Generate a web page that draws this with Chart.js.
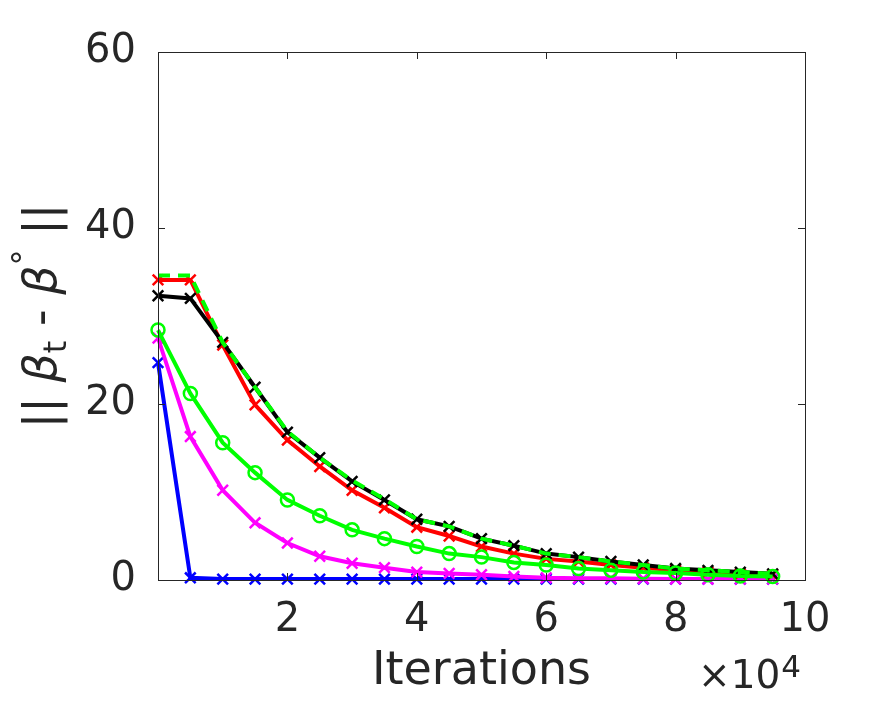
<!DOCTYPE html>
<html>
<head>
<meta charset="utf-8">
<script src="https://cdn.jsdelivr.net/npm/chart.js@4.4.1/dist/chart.umd.min.js"></script>
<style>
  html, body { margin: 0; padding: 0; background: #fff; }
  #wrap { width: 891px; height: 703px; }
</style>
</head>
<body>
<div id="wrap"><canvas id="errChart" width="891" height="703"></canvas></div>
<script>
// iterations (x 10^4)
const iterations = [0, 0.5, 1, 1.5, 2, 2.5, 3, 3.5, 4, 4.5, 5, 5.5, 6, 6.5, 7, 7.5, 8, 8.5, 9, 9.5];

const redVals     = [34.1, 34.1, 26.7, 19.9, 15.9, 12.9, 10.2, 8.2, 6.0, 5.0, 3.8, 3.0, 2.4, 2.1, 1.7, 1.4, 1.1, 0.9, 0.7, 0.6];
const blackVals   = [32.3, 32.0, 27.0, 21.9, 16.8, 13.9, 11.2, 9.1, 6.9, 6.1, 4.7, 3.9, 3.0, 2.6, 2.1, 1.7, 1.3, 1.1, 0.9, 0.7];
const greenDashed = [34.6, 34.6, 27.0, 21.9, 16.9, 13.9, 11.3, 9.2, 6.9, 6.1, 4.7, 3.9, 3.0, 2.6, 2.1, 1.7, 1.3, 1.1, 0.9, 0.7];
const greenCircle = [28.4, 21.2, 15.6, 12.2, 9.1, 7.3, 5.7, 4.7, 3.8, 3.0, 2.6, 2.0, 1.7, 1.3, 1.1, 0.9, 0.8, 0.6, 0.45, 0.4];
const magentaVals = [27.5, 16.3, 10.2, 6.5, 4.2, 2.7, 1.9, 1.4, 0.9, 0.75, 0.6, 0.4, 0.25, 0.2, 0.2, 0.15, 0.12, 0.1, 0.1, 0.1];
const blueVals    = [24.7, 0.25, 0.1, 0.1, 0.1, 0.1, 0.1, 0.1, 0.1, 0.1, 0.1, 0.1, 0.1, 0.1, 0.1, 0.1, 0.1, 0.1, 0.1, 0.1];

const xTicks = [2, 4, 6, 8, 10];
const yTicks = [0, 20, 40, 60];

const axisColor = '#262626';
const fontFamily = '"DejaVu Sans", sans-serif';

function toPoints(vals) {
    return vals.map((v, i) => ({ x: iterations[i], y: v }));
}

function makeSeries(vals, color, opts) {
    return Object.assign({
        data: toPoints(vals),
        showLine: true,
        borderColor: color,
        backgroundColor: color,
        borderWidth: 4,
        pointStyle: 'crossRot',
        pointRadius: 7.5,
        pointBorderWidth: 2.5,
        pointBorderColor: color,
        pointHoverRadius: 7.5,
        clip: false,
        tension: 0
    }, opts || {});
}

// box, inward ticks, y title, exponent label
const matlabAxes = {
    id: 'matlabAxes',
    afterDraw(chart) {
        const ctx = chart.ctx;
        const a = chart.chartArea;
        const xs = chart.scales.x;
        const ys = chart.scales.y;
        const tl = 7;
        ctx.save();
        ctx.strokeStyle = axisColor;
        ctx.lineWidth = 1;
        ctx.strokeRect(a.left + 0.5, a.top + 0.5, a.right - a.left, a.bottom - a.top);
        ctx.beginPath();
        xTicks.forEach(t => {
            const px = Math.round(xs.getPixelForValue(t)) + 0.5;
            ctx.moveTo(px, a.bottom); ctx.lineTo(px, a.bottom - tl);
            ctx.moveTo(px, a.top); ctx.lineTo(px, a.top + tl);
        });
        yTicks.forEach(t => {
            const py = Math.round(ys.getPixelForValue(t)) + 0.5;
            ctx.moveTo(a.left, py); ctx.lineTo(a.left + tl, py);
            ctx.moveTo(a.right, py); ctx.lineTo(a.right - tl, py);
        });
        ctx.stroke();

        // y axis title: || beta_t - beta° ||
        ctx.fillStyle = axisColor;
        ctx.textBaseline = 'alphabetic';
        ctx.textAlign = 'left';
        const big = '46px ' + fontFamily;
        const bigIt = 'italic 46px ' + fontFamily;
        const small = '32px ' + fontFamily;
        const parts = [
            { t: '|| ', f: big, dy: 0 },
            { t: 'β', f: bigIt, dy: 0 },
            { t: 't', f: small, dy: 10 },
            { t: ' - ', f: big, dy: 0 },
            { t: 'β', f: bigIt, dy: 0 },
            { t: '°', f: small, dy: -21 },
            { t: ' ||', f: big, dy: 0 }
        ];
        let total = 0;
        parts.forEach(p => { ctx.font = p.f; p.w = ctx.measureText(p.t).width; total += p.w; });
        ctx.translate(56, (a.top + a.bottom) / 2);
        ctx.rotate(-Math.PI / 2);
        let cx = -total / 2;
        parts.forEach(p => {
            ctx.font = p.f;
            ctx.fillText(p.t, cx, p.dy);
            cx += p.w;
        });
        ctx.restore();

        // x 10^4
        ctx.save();
        ctx.fillStyle = axisColor;
        ctx.textBaseline = 'alphabetic';
        ctx.textAlign = 'left';
        ctx.font = '39px ' + fontFamily;
        let ex = 698;
        ctx.fillText('×10', ex, 688);
        ex += ctx.measureText('×10').width;
        ctx.font = '31px ' + fontFamily;
        ctx.fillText('4', ex + 1, 677);
        ctx.restore();
    }
};

const ctx = document.getElementById('errChart').getContext('2d');
const errChart = new Chart(ctx, {
    type: 'scatter',
    data: {
        datasets: [
            makeSeries(greenDashed, '#00ff00', { pointRadius: 0, pointHoverRadius: 0, borderDash: [12, 8], order: 1 }),
            makeSeries(greenCircle, '#00ff00', { pointStyle: 'circle', pointRadius: 6.5, pointBorderWidth: 2.5, backgroundColor: 'rgba(0,0,0,0)', order: 2 }),
            makeSeries(blackVals, '#000000', { order: 3 }),
            makeSeries(redVals, '#ff0000', { order: 4 }),
            makeSeries(magentaVals, '#ff00ff', { order: 5 }),
            makeSeries(blueVals, '#0000ff', { order: 6 })
        ]
    },
    options: {
        responsive: false,
        animation: false,
        devicePixelRatio: 1,
        layout: { padding: { left: 0, right: 86, top: 52, bottom: 0 } },
        plugins: {
            legend: { display: false },
            tooltip: { enabled: false }
        },
        scales: {
            x: {
                type: 'linear',
                min: 0,
                max: 10,
                afterFit(scale) { scale.height = 123; },
                afterBuildTicks(scale) { scale.ticks = xTicks.map(v => ({ value: v })); },
                grid: { display: false },
                border: { display: false },
                ticks: { color: axisColor, font: { family: fontFamily, size: 40 }, padding: 9, maxRotation: 0 },
                title: {
                    display: true,
                    text: 'Iterations',
                    color: axisColor,
                    font: { family: fontFamily, size: 46 },
                    padding: { top: 0, bottom: 3 }
                }
            },
            y: {
                type: 'linear',
                min: 0,
                max: 60,
                afterFit(scale) { scale.width = 158; },
                afterBuildTicks(scale) { scale.ticks = yTicks.map(v => ({ value: v })); },
                grid: { display: false },
                border: { display: false },
                ticks: { color: axisColor, font: { family: fontFamily, size: 40 }, padding: 14 }
            }
        }
    },
    plugins: [matlabAxes]
});
</script>
</body>
</html>
